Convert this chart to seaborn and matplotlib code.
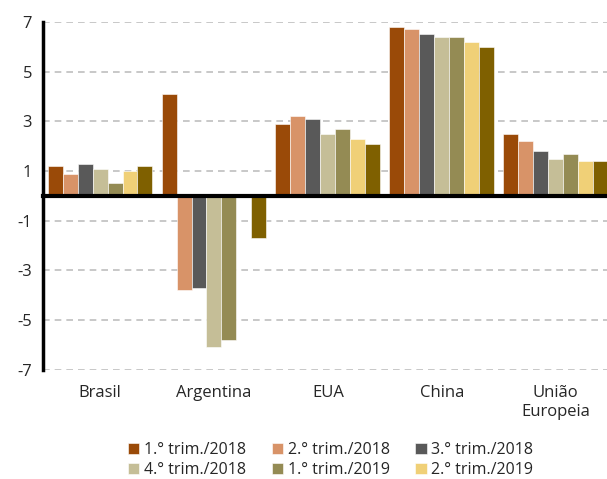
import pandas as pd
import numpy as np
import seaborn as sns
import matplotlib.pyplot as plt

# Dados (variação do PIB, %)
paises = ['Brasil', 'Argentina', 'EUA', 'China', 'União\nEuropeia']
trimestres = ['1.° trim./2018', '2.° trim./2018', '3.° trim./2018',
              '4.° trim./2018', '1.° trim./2019', '2.° trim./2019',
              '3.° trim./2019']
brasil = [1.2, 0.9, 1.3, 1.1, 0.5, 1.0, 1.2]
argentina = [4.1, -3.8, -3.7, -6.1, -5.8, np.nan, -1.7]
eua = [2.9, 3.2, 3.1, 2.5, 2.7, 2.3, 2.1]
china = [6.8, 6.7, 6.5, 6.4, 6.4, 6.2, 6.0]
uniao_europeia = [2.5, 2.2, 1.8, 1.5, 1.7, 1.4, 1.4]
cores = ['#9A4A08', '#D89368', '#595959', '#C5BE97', '#948B54', '#F0D077', '#7F6000']

valores = [brasil, argentina, eua, china, uniao_europeia]
linhas = []
for pais, vals in zip(paises, valores):
    for trim, v in zip(trimestres, vals):
        linhas.append({'pais': pais, 'trimestre': trim, 'valor': v})
df = pd.DataFrame(linhas)

sns.set_style('white')
plt.rcParams['font.family'] = ['Open Sans', 'DejaVu Sans']

fig = plt.figure(figsize=(6.07, 4.79), dpi=100)
ax = fig.add_axes([0.071, 0.228, 0.929, 0.726])

sns.barplot(data=df, x='pais', y='valor', hue='trimestre', order=paises,
            hue_order=trimestres, palette=cores, saturation=1, width=0.92, gap=0,
            edgecolor='white', linewidth=0.4, ax=ax, legend=True)

ax.set_xlim(-0.5, 4.45)
ax.set_ylim(-7, 7)
ax.set_yticks(range(-7, 8, 2))
ax.set_yticklabels([str(t) for t in range(-7, 8, 2)], fontsize=12)
ax.yaxis.grid(True, linestyle=(0, (4, 3)), color='#BFBFBF', linewidth=1.2)
ax.set_axisbelow(True)
ax.set_xlabel('')
ax.set_ylabel('')

for s in ['top', 'right']:
    ax.spines[s].set_visible(False)
ax.spines['left'].set_linewidth(2.5)
ax.spines['left'].set_color('black')
ax.spines['bottom'].set_position(('data', 0))
ax.spines['bottom'].set_linewidth(3)
ax.spines['bottom'].set_color('black')
ax.spines['bottom'].set_zorder(5)

ax.tick_params(axis='y', direction='out', length=4, width=3, color='black', pad=4)
ax.set_xticks([0.5, 1.5, 2.5, 3.5])
ax.set_xticklabels([])
ax.tick_params(axis='x', direction='out', length=5, width=3, color='black')

for i, p in enumerate(paises):
    ax.annotate(p, xy=(i, 0), xycoords=('data', 'axes fraction'),
                xytext=(0, -11), textcoords='offset points',
                ha='center', va='top', fontsize=12, linespacing=1.25)

# legenda em ordem por linha (só 6 séries aparecem)
handles, labels = ax.get_legend_handles_labels()
ax.legend_.remove()
ordem = [0, 3, 1, 4, 2, 5]
fig.legend([handles[i] for i in ordem], [labels[i] for i in ordem],
           ncol=3, loc='lower center', bbox_to_anchor=(0.545, -0.028),
           frameon=False, fontsize=11.5,
           handlelength=0.7, handleheight=0.7, handletextpad=0.3,
           columnspacing=1.6, labelspacing=0.25)

plt.savefig('out.png', dpi=100)
